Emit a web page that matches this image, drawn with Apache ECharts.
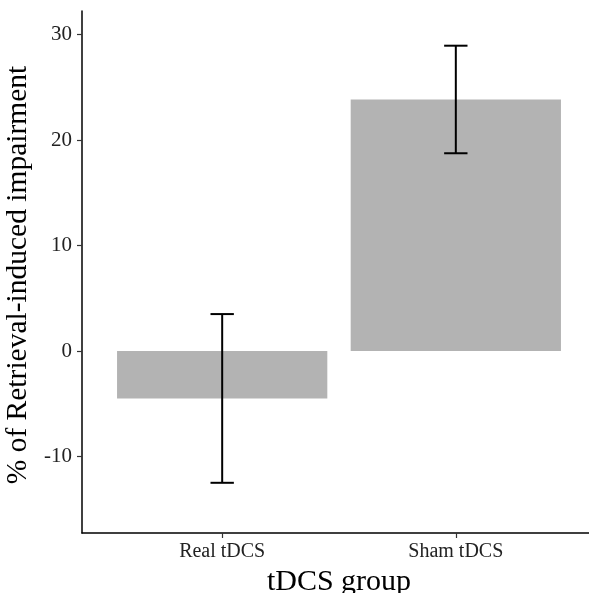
<!DOCTYPE html>
<html lang="en">
<head>
	<meta charset="UTF-8">
	<title>tDCS group</title>
	<script src="https://cdn.jsdelivr.net/npm/echarts@6/dist/echarts.min.js"></script>
	<style>
		html, body { margin: 0; padding: 0; background: #fff; }
	</style>
</head>
<body>
	<div id="main" style="width:589px; height:593px"></div>
	<script>
		// data
		var categories = ["Real tDCS", "Sham tDCS"];
		var means = [-4.5, 23.85];
		var errLow = [-12.5, 18.75];
		var errHigh = [3.5, 28.95];
		var yTicks = [-10, 0, 10, 20, 30];

		var xPos = categories.map(function (c, i) { return i + 1; });
		var barData = xPos.map(function (x, i) { return [x, means[i]]; });
		var errData = xPos.map(function (x, i) { return [x, errLow[i], errHigh[i]]; });

		var serif = "Liberation Serif";
		var myChart = echarts.init(document.getElementById("main"));
		myChart.setOption({
			animation: false,
			grid: { left: 82, right: -7, top: 11, bottom: 60, outerBoundsMode: "none", containLabel: false },
			xAxis: {
				type: "value",
				min: 0.4,
				max: 2.6,
				splitLine: { show: false },
				axisLine: { onZero: false, lineStyle: { color: "#000", width: 1.5 } },
				axisTick: { customValues: xPos, length: 5, lineStyle: { color: "#333", width: 1.2 } },
				axisLabel: {
					customValues: xPos,
					formatter: function (v) { return categories[Math.round(v) - 1]; },
					fontFamily: serif, fontSize: 20, color: "#222", margin: 9
				},
				name: "tDCS group",
				nameLocation: "middle",
				nameGap: 34,
				nameTextStyle: { fontFamily: serif, fontSize: 30, color: "#000" }
			},
			yAxis: {
				type: "value",
				min: -17.26,
				max: 32.24,
				splitLine: { show: false },
				axisLine: { show: true, onZero: false, lineStyle: { color: "#000", width: 1.5 } },
				axisTick: { show: true, customValues: yTicks, length: 5, lineStyle: { color: "#333", width: 1.2 } },
				axisLabel: {
					customValues: yTicks,
					fontFamily: serif, fontSize: 21, color: "#222", margin: 10
				},
				name: "% of Retrieval-induced impairment",
				nameLocation: "middle",
				nameGap: 41,
				nameTextStyle: { fontFamily: serif, fontSize: 29.5, color: "#000", padding: [0, 6, 0, 0] }
			},
			series: [
				{
					type: "custom",
					data: barData,
					renderItem: function (params, api) {
						var x = api.value(0);
						var p1 = api.coord([x - 0.45, api.value(1)]);
						var p2 = api.coord([x + 0.45, 0]);
						return {
							type: "rect",
							shape: {
								x: p1[0],
								y: Math.min(p1[1], p2[1]),
								width: p2[0] - p1[0],
								height: Math.abs(p2[1] - p1[1])
							},
							style: { fill: "#b3b3b3" }
						};
					}
				},
				{
					type: "custom",
					data: errData,
					z: 3,
					renderItem: function (params, api) {
						var x = api.value(0);
						var lo = api.coord([x, api.value(1)]);
						var hi = api.coord([x, api.value(2)]);
						var half = (api.coord([x + 0.05, 0])[0] - lo[0]);
						var st = { stroke: "#000", lineWidth: 2 };
						return {
							type: "group",
							children: [
								{ type: "line", shape: { x1: lo[0], y1: lo[1], x2: hi[0], y2: hi[1] }, style: st },
								{ type: "line", shape: { x1: lo[0] - half, y1: lo[1], x2: lo[0] + half, y2: lo[1] }, style: st },
								{ type: "line", shape: { x1: hi[0] - half, y1: hi[1], x2: hi[0] + half, y2: hi[1] }, style: st }
							]
						};
					}
				}
			]
		});
	</script>
</body>
</html>
